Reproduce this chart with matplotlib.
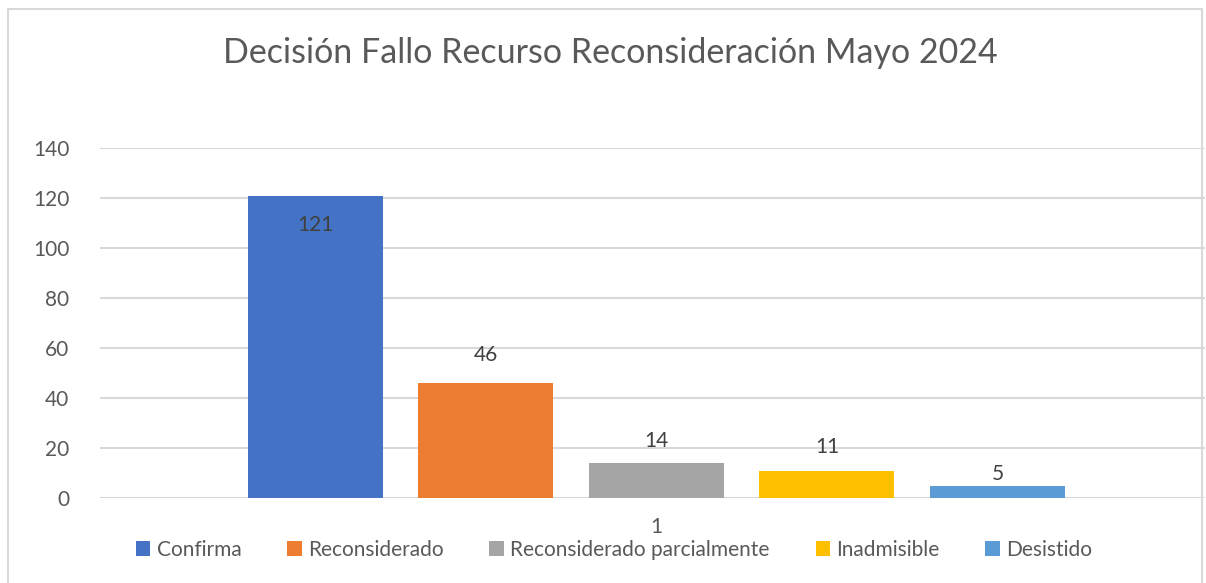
import matplotlib.pyplot as plt
from matplotlib.patches import Rectangle

plt.rcParams['font.family'] = ['Lato', 'DejaVu Sans']

# data
categories = ['Confirma', 'Reconsiderado', 'Reconsiderado parcialmente', 'Inadmisible', 'Desistido']
values = [121, 46, 14, 11, 5]
colors = ['#4472C4', '#ED7D31', '#A5A5A5', '#FFC000', '#5B9BD5']
yticks = [0, 20, 40, 60, 80, 100, 120, 140]
group_label = '1'
title = 'Decisión Fallo Recurso Reconsideración Mayo 2024'

fig = plt.figure(figsize=(12.06, 5.83), dpi=100)
ax = fig.add_axes([100 / 1206, 85 / 583, 1105 / 1206, 350 / 583])

step = 0.1543
width = 0.1222
label_off = [-21, 20, 16, 17, 8]  # px offsets of the value labels, like in Excel
bars = []
for i, (cat, val, col) in enumerate(zip(categories, values, colors)):
    x = (i - 2) * step
    b = ax.bar(x, val, width=width, color=col, zorder=3)
    bars.append(b[0])
    ax.annotate(str(val), (x, val), xytext=(0, label_off[i]), textcoords='offset points',
                ha='center', va='center', fontsize=15, color='#404040', zorder=4)

ax.set_xlim(-0.5036, 0.4964)
ax.set_ylim(0, 140)
ax.set_yticks(yticks)
ax.set_xticks([0])
ax.set_xticklabels([group_label])
ax.tick_params(axis='y', length=0, labelsize=15, labelcolor='#595959', pad=22)
ax.tick_params(axis='x', length=0, labelsize=15, labelcolor='#595959', pad=14)
ax.grid(axis='y', color='#d9d9d9', lw=1.5, zorder=0)
ax.set_axisbelow(True)
for s in ax.spines.values():
    s.set_visible(False)

fig.text(610 / 1206, 1 - 53 / 583, title, ha='center', va='center', fontsize=24.5, color='#595959')

fig.legend(handles=bars, labels=categories, loc='center', bbox_to_anchor=(614 / 1206, 1 - 550 / 583),
           ncol=5, frameon=False, fontsize=15, labelcolor='#595959',
           handlelength=0.7, handleheight=0.7, handletextpad=0.3, columnspacing=2.2)

fig.patches.append(Rectangle((8 / 1206, -0.05), 1194 / 1206, 1.05 - 9 / 583, transform=fig.transFigure,
                             fill=False, edgecolor='#d9d9d9', lw=1.5))

fig.savefig('out.png', dpi=100)
